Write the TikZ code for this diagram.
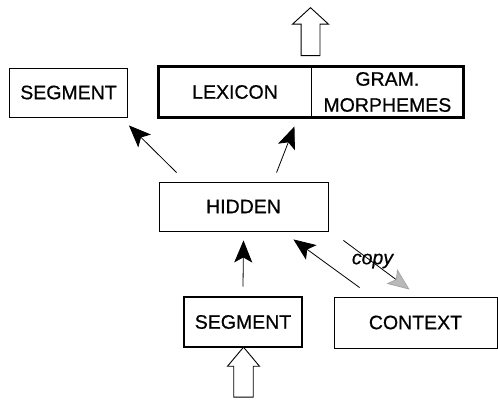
\documentclass[tikz,border=0pt]{standalone}
\usepackage{fontspec}
\setmainfont{Liberation Sans}[FakeBold=0.6]
\usetikzlibrary{shapes.arrows,arrows.meta,positioning,fit}

\begin{document}
\begin{tikzpicture}[x=1pt, y=-1pt,
  font=\fontsize{19.5}{26}\selectfont,
  unit/.style    ={rectangle, draw, line width=0.9pt, align=center,
                   inner sep=0pt},
  heavy/.style   ={unit, line width=2.6pt},
  link/.style    ={-{Stealth[length=22pt,width=18pt,inset=5pt]},
                   line width=0.8pt},
  copylink/.style={-{Stealth[length=22pt,width=18pt,inset=5pt,
                   fill=gray!55, color=gray!70]}, line width=0.8pt},
  bigarrow/.style={single arrow, draw, line width=0.9pt,
                   shape border rotate=90, inner sep=9pt,
                   single arrow head indent=0pt},
]
\useasboundingbox (0,0) rectangle (498,403);

% === Output layer ===
\node[unit, minimum width=118pt, minimum height=49pt] (segout)
  at (68.5,92.5) {SEGMENT};
\node[unit, minimum width=152pt, minimum height=50pt] (lex)
  at (235,92) {LEXICON};
\node[unit, minimum width=151pt, minimum height=50pt, right=0pt of lex]
  (gram) {GRAM.\\MORPHEMES};
\node[heavy, fit=(lex)(gram)] (lexgram) {};

% === Hidden and input layers ===
\node[unit, minimum width=169pt, minimum height=49pt] (hidden)
  at (243.5,206.5) {HIDDEN};
\node[heavy, minimum width=118pt, minimum height=50pt] (segin)
  at (243,322) {SEGMENT};
\node[unit, minimum width=163pt, minimum height=51pt] (context)
  at (415.5,322.5) {CONTEXT};

% === Outside world ===
\node[bigarrow, minimum height=48pt, minimum width=35pt,
      single arrow head extend=8.5pt, single arrow tip angle=95]
  (output) at (310.5,36) {};
\node[bigarrow, minimum height=50pt, minimum width=32pt,
      single arrow head extend=6pt, single arrow tip angle=80]
  (input) at (243.5,378) {};

% === Connections ===
\draw[link] ([xshift=18pt,yshift=9pt]hidden.north west)
  -- ([xshift=1pt,yshift=-8pt]segout.south east);
\draw[link] ([xshift=118pt,yshift=9pt]hidden.north west)
  -- ([xshift=-17pt,yshift=-9pt]lex.south east);
\draw[link] ([yshift=9pt]segin.north) -- ([yshift=-9pt]hidden.south);
\draw[link] ([xshift=26pt,yshift=9pt]context.north west)
  -- ([xshift=-35pt,yshift=-8pt]hidden.south east);
\draw[copylink] ([xshift=15pt,yshift=-9pt]hidden.south east)
  -- node[midway, xshift=-4pt, yshift=4pt, font=\fontsize{19.5}{26}\selectfont\itshape]{copy}
  ([xshift=76pt,yshift=7pt]context.north west);

\end{tikzpicture}
\end{document}
